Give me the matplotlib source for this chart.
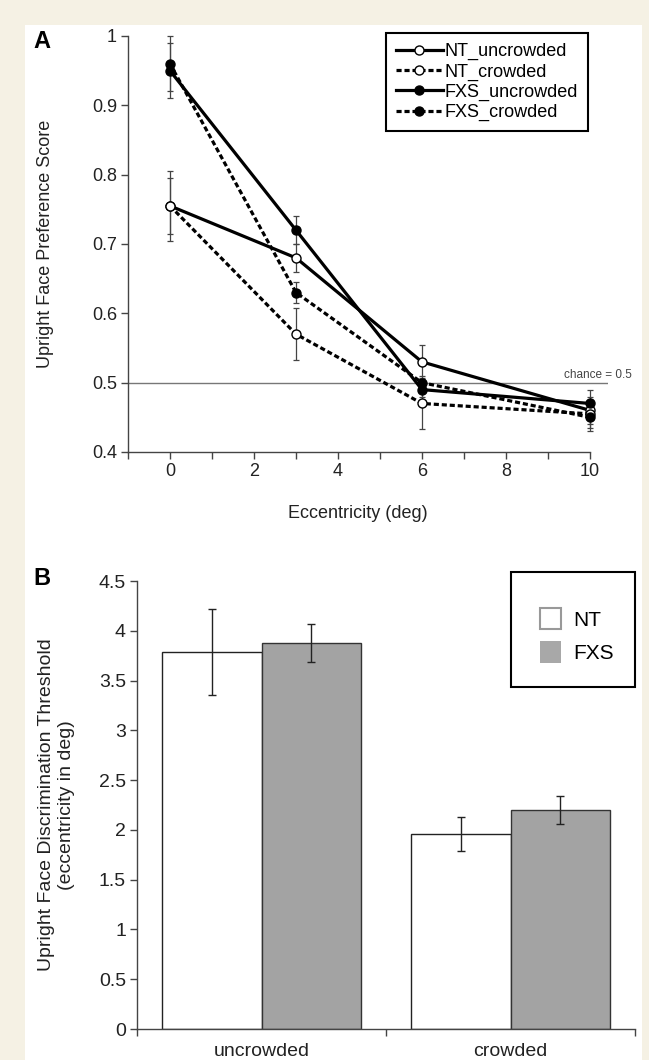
import matplotlib.pyplot as plt
import numpy as np
from matplotlib.patches import Rectangle, Patch

plt.rcParams['font.family'] = ['Liberation Sans', 'DejaVu Sans']

# panel A: preference score vs eccentricity
ecc = [0, 3, 6, 10]
nt_unc = [0.755, 0.68, 0.53, 0.46]
nt_unc_err = [0.05, 0.02, 0.025, 0.02]
nt_cr = [0.755, 0.57, 0.47, 0.455]
nt_cr_err = [0.04, 0.037, 0.037, 0.02]
fxs_unc = [0.95, 0.72, 0.49, 0.47]
fxs_unc_err = [0.04, 0.02, 0.01, 0.02]
fxs_cr = [0.96, 0.63, 0.50, 0.45]
fxs_cr_err = [0.04, 0.015, 0.01, 0.02]

# panel B: discrimination threshold
conditions = ['uncrowded', 'crowded']
nt_thr = [3.785, 1.96]
nt_thr_err = [0.43, 0.17]
fxs_thr = [3.875, 2.20]
fxs_thr_err = [0.19, 0.14]

W, H = 649, 1060
cream = '#f5f1e4'
fig = plt.figure(figsize=(W / 100, H / 100), dpi=100, facecolor=cream)
fig.patches.append(Rectangle((25 / W, 0), (642 - 25) / W, 1 - 25 / H,
                             transform=fig.transFigure, facecolor='white',
                             edgecolor='none', zorder=-10))


def px_axes(l, t, r, b):
    return fig.add_axes([l / W, 1 - b / H, (r - l) / W, (b - t) / H])


def style_axes(ax, size):
    for s in ['top', 'right']:
        ax.spines[s].set_visible(False)
    for s in ['left', 'bottom']:
        ax.spines[s].set_color('#444444')
        ax.spines[s].set_linewidth(1)
    ax.set_facecolor('none')
    ax.tick_params(direction='out', length=5, width=1, color='#444444',
                   labelsize=size, pad=3, labelcolor='#222222')


# ---- A ----
axA = px_axes(128, 36, 608, 452)
style_axes(axA, 13)
axA.set_xlim(-1, 10.43)
axA.set_ylim(0.4, 1.0)
axA.spines['bottom'].set_bounds(-1, 10)

dash = (0, (1.6, 0.9))
series = [
    (nt_unc, nt_unc_err, 'NT_uncrowded', '-', 'white'),
    (nt_cr, nt_cr_err, 'NT_crowded', dash, 'white'),
    (fxs_unc, fxs_unc_err, 'FXS_uncrowded', '-', 'black'),
    (fxs_cr, fxs_cr_err, 'FXS_crowded', dash, 'black'),
]
for vals, err, lab, ls, face in series:
    axA.errorbar(ecc, vals, yerr=err, fmt='none', ecolor='#444444',
                 elinewidth=0.9, capsize=2.5, capthick=0.9, zorder=2,
                 clip_on=False)
for vals, err, lab, ls, face in series:
    axA.plot(ecc, vals, color='black', linestyle=ls, lw=2.3, marker='o',
             ms=6.5, mfc=face, mec='black', mew=1, label=lab, zorder=3,
             clip_on=False)

axA.axhline(0.5, color='#777777', lw=1, zorder=1)
axA.text(11.0, 0.503, 'chance = 0.5', ha='right', va='bottom', fontsize=8.5,
         color='#444444', clip_on=False)

axA.set_xticks(range(-1, 11))
axA.set_xticklabels([str(v) if v >= 0 and v % 2 == 0 else '' for v in range(-1, 11)])
yt = np.round(np.arange(0.4, 1.01, 0.1), 1)
axA.set_yticks(yt)
axA.set_yticklabels([f'{v:g}' for v in yt])

axA.set_ylabel('Upright Face Preference Score', fontsize=13, color='#222222')
axA.yaxis.set_label_coords(-0.154, 0.5)
axA.set_xlabel('Eccentricity (deg)', fontsize=13, color='#222222')
axA.xaxis.set_label_coords(0.479, -0.127)

legA = axA.legend(loc='upper left', bbox_to_anchor=(386 / W, 1 - 33 / H),
                  bbox_transform=fig.transFigure, borderaxespad=0,
                  fancybox=False, edgecolor='black', framealpha=1,
                  fontsize=13, handlelength=2.6, handletextpad=0.1,
                  labelspacing=0.18, borderpad=0.55)
legA.get_frame().set_linewidth(1.5)

# ---- B ----
axB = px_axes(137, 581, 635, 1029)
style_axes(axB, 14)
x = np.arange(len(conditions))
ekw = dict(elinewidth=1, capthick=1, ecolor='#222222')
axB.bar(x - 0.2, nt_thr, 0.4, yerr=nt_thr_err, color='white',
        edgecolor='#222222', lw=1, capsize=3, error_kw=ekw)
axB.bar(x + 0.2, fxs_thr, 0.4, yerr=fxs_thr_err, color='#a3a3a3',
        edgecolor='#333333', lw=1, capsize=3, error_kw=ekw)
axB.set_xlim(-0.5, 1.5)
axB.set_ylim(0, 4.5)
ybt = np.arange(0, 4.51, 0.5)
axB.set_yticks(ybt)
axB.set_yticklabels([f'{v:g}' for v in ybt])
axB.set_xticks(x)
axB.set_xticklabels(conditions)
axB.set_xticks([-0.5, 0.5, 1.5], minor=True)
axB.tick_params(axis='x', which='major', length=0, pad=10)
axB.tick_params(axis='x', which='minor', direction='out', length=5,
                width=1, color='#444444')

axB.set_ylabel('Upright Face Discrimination Threshold\n(eccentricity in deg)',
               fontsize=14, color='#222222')
axB.yaxis.set_label_coords(-0.1245, 0.5)

# legend box for B drawn separately so the padding can be uneven
fig.patches.append(Rectangle((511 / W, 1 - 687 / H), (635 - 511) / W,
                             (687 - 572) / H, transform=fig.transFigure,
                             facecolor='white', edgecolor='black', lw=1.5,
                             zorder=5))
handles = [Patch(facecolor='white', edgecolor='#999999', lw=1.5),
           Patch(facecolor='#a8a8a8', edgecolor='none')]
legB = fig.legend(handles, ['NT', 'FXS'], loc='upper left',
                  bbox_to_anchor=(540 / W, 1 - 608 / H),
                  bbox_transform=fig.transFigure, borderaxespad=0,
                  frameon=False, fontsize=15, handlelength=1.0,
                  handleheight=1.2, handletextpad=0.6, labelspacing=0.55,
                  borderpad=0)
legB.set_zorder(6)

fig.text(33 / W, 1 - 48 / H, 'A', fontsize=17, fontweight='bold', va='baseline')
fig.text(33 / W, 1 - 585 / H, 'B', fontsize=17, fontweight='bold', va='baseline')

fig.savefig('out.png', dpi=100, facecolor=cream)
